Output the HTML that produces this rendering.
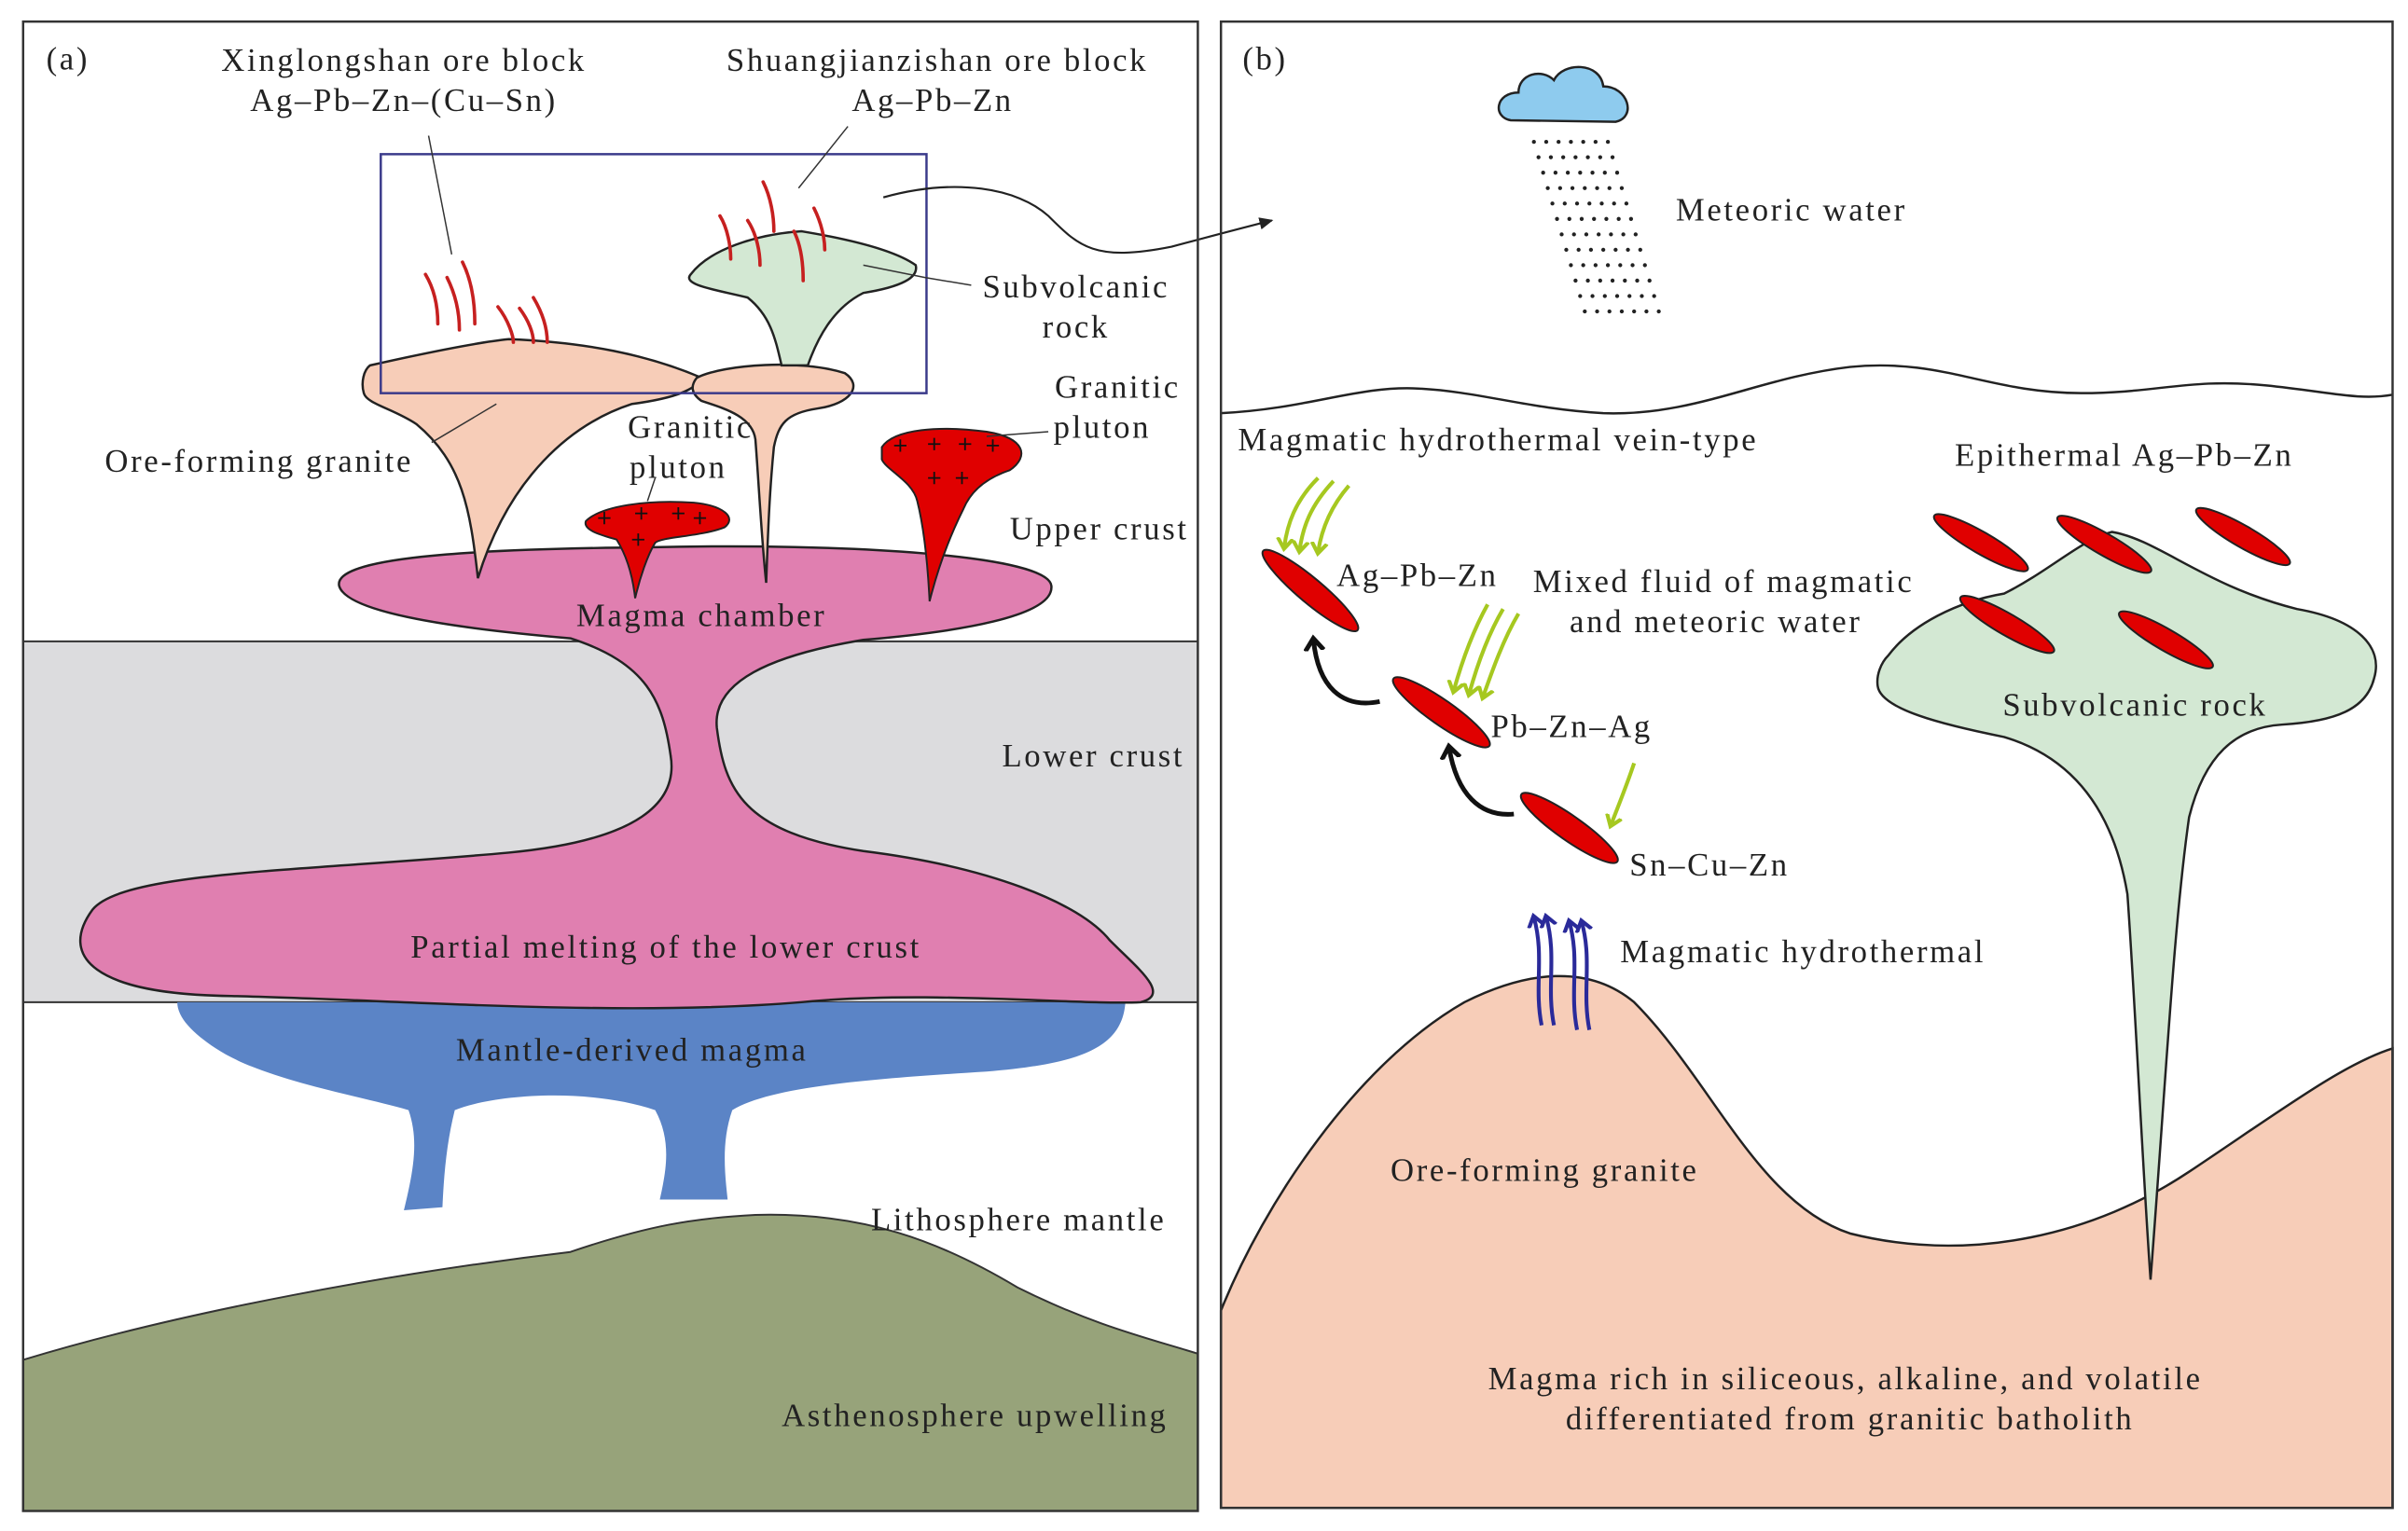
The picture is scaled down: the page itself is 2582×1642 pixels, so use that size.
<!DOCTYPE html>
<html><head><meta charset="utf-8"><style>
html,body{margin:0;padding:0;background:#fff}
svg{display:block}
text{font-family:"Liberation Serif",serif;font-size:21px;letter-spacing:1.6px;fill:#222}
</style></head><body>
<svg width="2582" height="1642" viewBox="0 0 1562 993" preserveAspectRatio="none" xmlns="http://www.w3.org/2000/svg">
<defs>
<marker id="ah" markerWidth="10" markerHeight="10" refX="8" refY="5" orient="auto" markerUnits="userSpaceOnUse"><path d="M0,1 L9,5 L0,9 Z" fill="#222"/></marker>
<marker id="ahg" markerWidth="12" markerHeight="12" refX="6" refY="6" orient="auto" markerUnits="userSpaceOnUse"><path d="M0,1 L7,6 L0,11" fill="none" stroke="#a6c820" stroke-width="2.5"/></marker>
<marker id="ahb" markerWidth="12" markerHeight="12" refX="6" refY="6" orient="auto" markerUnits="userSpaceOnUse"><path d="M0,1 L7,6 L0,11" fill="none" stroke="#2a2a9a" stroke-width="2.5"/></marker>
<marker id="ahk" markerWidth="14" markerHeight="14" refX="7" refY="7" orient="auto" markerUnits="userSpaceOnUse"><path d="M0,1 L8,7 L0,13" fill="none" stroke="#111" stroke-width="3"/></marker>
</defs>

<!-- Panel a -->
<rect x="15" y="416" width="762" height="234" fill="#dcdcde"/>
<path d="M15,882 C120,850 260,825 370,812 C420,795 450,790 490,788 C560,786 610,805 660,835 C710,860 745,868 777,878 L777,980 L15,980 Z" fill="#97a37a" stroke="#333" stroke-width="1.2"/>
<line x1="15" y1="416" x2="777" y2="416" stroke="#333" stroke-width="1.2"/>
<line x1="15" y1="650" x2="777" y2="650" stroke="#333" stroke-width="1.2"/>
<path d="M115,650 L730,650 C728,680 700,690 640,695 C560,700 500,705 475,720 C468,740 470,760 472,778 L428,778 C432,760 436,740 425,720 C380,705 320,710 295,720 C290,740 288,760 287,783 L262,785 C268,760 272,740 265,720 C230,710 170,700 140,680 C125,670 115,660 115,650 Z" fill="#5b84c6"/>
<path d="M60,590 C80,565 200,565 330,553 C415,545 440,520 435,490 C430,455 420,430 370,414 C300,408 225,398 220,380 C216,362 300,356 420,355 C550,352 680,360 682,380 C684,400 620,410 560,415 C500,425 462,442 465,472 C470,512 482,540 560,552 C640,562 700,585 720,610 C738,628 760,645 740,650 C700,652 600,642 520,650 C400,660 250,648 150,646 C60,645 38,620 60,590 Z" fill="#e07fb0" stroke="#222" stroke-width="1.5"/>
<path d="M240,237 C280,228 310,222 330,220 C380,222 420,230 455,245 C452,252 440,258 410,262 C370,275 330,310 310,375 C305,330 300,300 270,275 C255,265 238,262 236,255 C234,248 236,240 240,237 Z" fill="#f7cdb8" stroke="#222" stroke-width="1.5"/>
<path d="M452,245 C470,236 520,233 548,242 C560,250 552,262 530,265 C510,268 505,275 502,290 C499,320 498,350 497,378 C494,350 492,310 490,285 C488,270 470,265 455,260 C448,255 448,250 452,245 Z" fill="#f7cdb8" stroke="#222" stroke-width="1.5"/>
<path d="M448,178 C460,162 490,152 520,150 C550,155 580,162 594,172 C596,180 585,186 560,190 C540,200 530,220 524,237 L507,237 C503,220 500,205 485,193 C465,188 442,185 448,178 Z" fill="#d3e8d3" stroke="#222" stroke-width="1.5"/>
<path d="M380,338 C390,328 420,324 450,326 C470,328 478,336 470,342 C455,348 430,348 425,352 C420,360 415,375 412,388 C410,370 405,358 400,350 C390,347 378,344 380,338 Z" fill="#e00000" stroke="#222" stroke-width="1.2"/>
<path d="M572,290 C580,278 610,276 640,280 C665,284 668,296 655,305 C640,310 630,318 625,330 C615,350 608,370 603,390 C602,370 600,345 595,325 C592,312 575,305 572,298 Z" fill="#e00000" stroke="#222" stroke-width="1.2"/>
<g stroke="#111" stroke-width="1.1">
<path d="M388,336h8M392,332v8 M412,333h8M416,329v8 M436,333h8M440,329v8 M450,336h8M454,332v8 M410,350h8M414,346v8"/>
<path d="M580,289h8M584,285v8 M602,288h8M606,284v8 M622,288h8M626,284v8 M640,289h8M644,285v8 M602,310h8M606,306v8 M620,310h8M624,306v8"/>
</g>
<g fill="none" stroke="#c62020" stroke-width="2.2" stroke-linecap="round">
<path d="M276,178 C282,188 284,200 284,210"/><path d="M290,180 C296,192 298,204 298,214"/><path d="M300,170 C306,182 308,196 308,210"/>
<path d="M323,199 C330,208 333,218 333,222"/><path d="M337,200 C343,208 346,216 346,222"/><path d="M346,193 C352,203 355,213 355,222"/>
<path d="M467,140 C472,148 474,160 474,168"/><path d="M485,143 C491,152 493,164 493,172"/><path d="M495,118 C500,128 502,140 502,150"/><path d="M528,135 C533,145 535,155 535,162"/><path d="M515,150 C520,160 521,172 521,182"/>
</g>
<rect x="247" y="100" width="354" height="155" fill="none" stroke="#3a3a8a" stroke-width="1.5"/>
<g stroke="#333" stroke-width="0.9" fill="none">
<path d="M278,88 L293,165"/><path d="M550,82 L518,122"/><path d="M560,172 L600,180 L630,185"/>
<path d="M280,287 L322,262"/><path d="M425,310 L420,325"/><path d="M680,280 L640,283"/>
</g>
<path d="M573,128 C620,115 660,122 680,140 C700,160 710,170 760,160 C790,152 805,148 825,143" fill="none" stroke="#222" stroke-width="1.3" marker-end="url(#ah)"/>
<rect x="15" y="14" width="762" height="966" fill="none" stroke="#333" stroke-width="1.5"/>
<text x="30" y="45">(a)</text>
<text x="262" y="46" text-anchor="middle">Xinglongshan ore block</text>
<text x="262" y="72" text-anchor="middle">Ag–Pb–Zn–(Cu–Sn)</text>
<text x="608" y="46" text-anchor="middle">Shuangjianzishan ore block</text>
<text x="605" y="72" text-anchor="middle">Ag–Pb–Zn</text>
<text x="698" y="193" text-anchor="middle">Subvolcanic</text>
<text x="698" y="219" text-anchor="middle">rock</text>
<text x="725" y="258" text-anchor="middle">Granitic</text>
<text x="715" y="284" text-anchor="middle">pluton</text>
<text x="448" y="284" text-anchor="middle">Granitic</text>
<text x="440" y="310" text-anchor="middle">pluton</text>
<text x="68" y="306">Ore-forming granite</text>
<text x="655" y="350">Upper crust</text>
<text x="455" y="406" text-anchor="middle">Magma chamber</text>
<text x="650" y="497">Lower crust</text>
<text x="432" y="621" text-anchor="middle">Partial melting of the lower crust</text>
<text x="410" y="688" text-anchor="middle">Mantle-derived magma</text>
<text x="565" y="798">Lithosphere mantle</text>
<text x="507" y="925">Asthenosphere upwelling</text>

<!-- Panel b -->
<path d="M792,850 C820,780 880,690 950,650 C990,630 1030,625 1060,650 C1110,700 1140,780 1200,800 C1280,820 1360,800 1420,760 C1480,720 1520,690 1552,680 L1552,978 L792,978 Z" fill="#f7cdb8" stroke="#222" stroke-width="1.5"/>
<path d="M1225,425 C1240,405 1270,390 1300,385 C1330,370 1350,350 1370,345 C1400,350 1430,380 1490,395 C1530,402 1546,420 1540,440 C1535,460 1515,468 1480,470 C1450,472 1430,490 1420,530 C1410,600 1405,700 1395,830 C1390,760 1385,650 1380,580 C1370,520 1340,490 1300,478 C1260,470 1220,460 1218,445 C1217,438 1220,430 1225,425 Z" fill="#d3e8d3" stroke="#222" stroke-width="1.5"/>
<path d="M792,268 C850,265 880,250 920,252 C960,254 990,265 1040,268 C1100,270 1140,245 1200,238 C1260,232 1290,255 1350,255 C1400,255 1420,245 1470,250 C1510,254 1530,260 1552,256" fill="none" stroke="#222" stroke-width="1.5"/>
<path d="M980,78 C968,76 970,60 985,60 C985,48 1000,44 1008,52 C1014,40 1038,40 1040,56 C1056,56 1062,76 1048,79 Z" fill="#8ecbee" stroke="#222" stroke-width="1.5"/>
<g fill="#222">
<g id="dr">
<circle cx="995" cy="92" r="1.3"/><circle cx="1003" cy="92" r="1.3"/><circle cx="1011" cy="92" r="1.3"/><circle cx="1019" cy="92" r="1.3"/><circle cx="1027" cy="92" r="1.3"/><circle cx="1035" cy="92" r="1.3"/><circle cx="1043" cy="92" r="1.3"/>
</g>
<use href="#dr" x="3" y="10"/><use href="#dr" x="6" y="20"/><use href="#dr" x="9" y="30"/><use href="#dr" x="12" y="40"/><use href="#dr" x="15" y="50"/><use href="#dr" x="18" y="60"/><use href="#dr" x="21" y="70"/><use href="#dr" x="24" y="80"/><use href="#dr" x="27" y="90"/><use href="#dr" x="30" y="100"/><use href="#dr" x="33" y="110"/>
</g>
<g fill="#e00000" stroke="#222" stroke-width="1.2">
<ellipse cx="850" cy="383" rx="40" ry="8" transform="rotate(40 850 383)"/>
<ellipse cx="935" cy="462" rx="38" ry="8" transform="rotate(35 935 462)"/>
<ellipse cx="1018" cy="537" rx="38" ry="8" transform="rotate(35 1018 537)"/>
<ellipse cx="1285" cy="352" rx="35" ry="7" transform="rotate(30 1285 352)"/>
<ellipse cx="1365" cy="353" rx="35" ry="7" transform="rotate(30 1365 353)"/>
<ellipse cx="1455" cy="348" rx="35" ry="7" transform="rotate(30 1455 348)"/>
<ellipse cx="1302" cy="405" rx="35" ry="7" transform="rotate(30 1302 405)"/>
<ellipse cx="1405" cy="415" rx="35" ry="7" transform="rotate(30 1405 415)"/>
</g>
<g fill="none" stroke="#a6c820" stroke-width="2.5" marker-end="url(#ahg)">
<path d="M855,310 C840,325 835,340 833,355"/><path d="M865,312 C850,328 845,342 843,357"/><path d="M875,315 C862,330 857,345 855,358"/>
<path d="M965,392 C955,410 948,430 943,448"/><path d="M975,395 C965,412 958,432 953,450"/><path d="M985,398 C975,415 968,435 962,452"/>
<path d="M1060,495 C1055,510 1050,522 1045,535"/>
</g>
<g fill="none" stroke="#111" stroke-width="3" marker-end="url(#ahk)">
<path d="M895,455 C870,460 855,445 852,415"/>
<path d="M982,528 C960,530 945,515 940,485"/>
</g>
<g fill="none" stroke="#2a2a9a" stroke-width="2.5" marker-end="url(#ahb)">
<path d="M1000,665 C995,640 1002,620 995,595"/><path d="M1008,665 C1003,640 1010,620 1003,595"/>
<path d="M1023,668 C1018,643 1025,623 1018,598"/><path d="M1031,668 C1026,643 1033,623 1026,598"/>
</g>
<rect x="792" y="14" width="760" height="964" fill="none" stroke="#333" stroke-width="1.5"/>
<text x="806" y="45">(b)</text>
<text x="1087" y="143">Meteoric water</text>
<text x="803" y="292">Magmatic hydrothermal vein-type</text>
<text x="1268" y="302">Epithermal Ag–Pb–Zn</text>
<text x="867" y="380">Ag–Pb–Zn</text>
<text x="1118" y="384" text-anchor="middle">Mixed fluid of magmatic</text>
<text x="1113" y="410" text-anchor="middle">and meteoric water</text>
<text x="1385" y="464" text-anchor="middle">Subvolcanic rock</text>
<text x="967" y="478">Pb–Zn–Ag</text>
<text x="1057" y="568">Sn–Cu–Zn</text>
<text x="1051" y="624">Magmatic hydrothermal</text>
<text x="1002" y="766" text-anchor="middle">Ore-forming granite</text>
<text x="1197" y="901" text-anchor="middle">Magma rich in siliceous, alkaline, and volatile</text>
<text x="1200" y="927" text-anchor="middle">differentiated from granitic batholith</text>
</svg>
</body></html>
